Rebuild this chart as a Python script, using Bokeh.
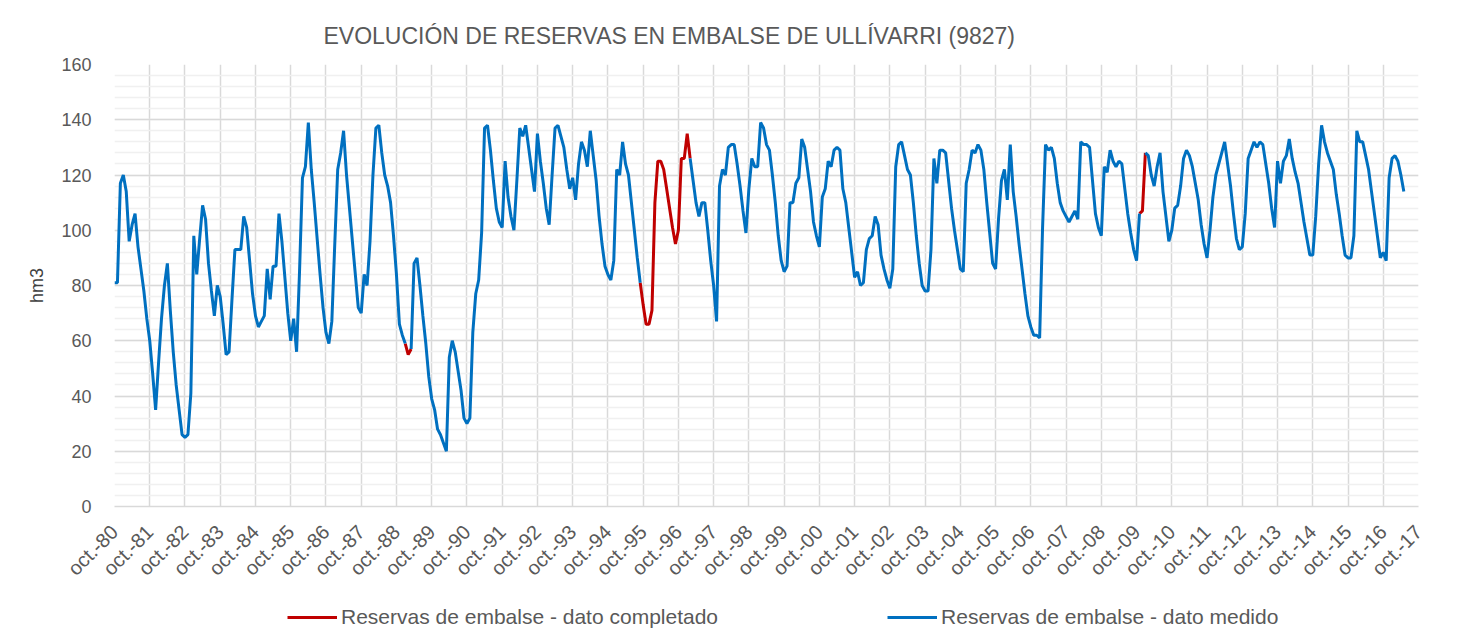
import math
import numpy as np
from bokeh.plotting import figure
from bokeh.layouts import column
from bokeh.models import FixedTicker, Legend, LegendItem, Range1d
from bokeh.embed import file_html
from bokeh.resources import INLINE

# ---------------- data (hm3, monthly, from oct-1980) ----------------
reservas_1980s = [
    81, 81, 117, 120, 114, 96, 102, 106, 94, 86, 78, 68,      # 80-81
    60, 48, 35, 52, 68, 80, 88, 71, 56, 44, 35, 26,           # 81-82
    25, 26, 41, 98, 84, 97, 109, 104, 88, 78, 69, 80,         # 82-83
    76, 66, 55, 56, 75, 93, 93, 93, 105, 101, 89, 77,         # 83-84
    69, 65, 67, 69, 86, 75, 87, 87, 106, 96, 83, 70,          # 84-85
    60, 68, 56, 85, 119, 123, 139, 122, 110, 97, 84, 72,      # 85-86
    63, 59, 67, 95, 122, 128, 136, 120, 108, 96, 84, 72,      # 86-87
    70, 84, 80, 96, 120, 137, 138, 128, 120, 116, 110, 98,    # 87-88
    84, 66, 62, 59, 55, 57, 88, 90, 80, 69, 59, 47,           # 88-89
    39, 35, 28, 26, 23, 20, 54, 60, 56, 49, 42, 32,           # 89-90
]
reservas_1990s = [
    30, 32, 63, 77, 82, 99, 137, 138, 129, 118, 108, 103,     # 90-91
    101, 125, 112, 105, 100, 118, 137, 134, 138, 130, 122, 114,
    135, 125, 117, 108, 102, 120, 137, 138, 134, 130, 122, 115,
    119, 111, 124, 132, 129, 123, 136, 127, 118, 105, 95, 87,
    84, 82, 89, 122, 120, 132, 124, 120, 110, 100, 90, 81,
    73, 66, 66, 71, 110, 125, 125, 122, 115, 108, 101, 95,
    100, 126, 126, 135, 126, 118, 110, 105, 110, 110, 100, 89,
    80, 67, 116, 122, 120, 130, 131, 131, 124, 116, 107, 99,
    115, 126, 123, 123, 139, 137, 131, 129, 120, 110, 98, 89,
    85, 87, 110, 110, 117, 119, 133, 130, 122, 114, 103, 98,
]
reservas_2000s = [
    94, 112, 115, 125, 123, 129, 130, 129, 115, 110, 101, 92,
    83, 85, 80, 81, 93, 97, 98, 105, 102, 91, 86, 82,
    79, 86, 123, 131, 132, 127, 122, 120, 110, 98, 88, 80,
    78, 78, 93, 126, 117, 129, 129, 128, 118, 108, 100, 93,
    86, 85, 117, 122, 129, 128, 131, 129, 122, 110, 99, 88,
    86, 104, 118, 122, 111, 131, 114, 105, 95, 86, 77, 69,
    65, 62, 62, 61, 101, 131, 129, 130, 126, 117, 110, 107,
    105, 103, 105, 107, 104, 132, 131, 131, 130, 118, 106, 101,
    98, 123, 121, 129, 125, 123, 125, 124, 115, 106, 99, 93,
    89, 106, 107, 128, 127, 120, 116, 123, 128, 114, 105, 96,
]
reservas_2010s = [
    100, 108, 109, 116, 126, 129, 127, 123, 117, 111, 102, 95,
    90, 100, 112, 120, 124, 128, 132, 124, 116, 106, 97, 93,
    94, 106, 126, 129, 132, 130, 132, 131, 124, 117, 108, 101,
    125, 117, 125, 127, 133, 126, 121, 117, 110, 103, 97, 91,
    91, 105, 124, 138, 132, 128, 125, 122, 113, 106, 98, 91,
    90, 90, 98, 136, 132, 132, 127, 122, 114, 106, 98, 90,
    92, 89, 119, 126, 127, 125, 120, 114,
]
# month ranges (first, last) of the completed (non-measured) data
tramos_completados = [(99, 101), (179, 196), (349, 351)]

etiquetas_x = ["oct.-80", "oct.-81", "oct.-82", "oct.-83", "oct.-84", "oct.-85",
               "oct.-86", "oct.-87", "oct.-88", "oct.-89", "oct.-90", "oct.-91",
               "oct.-92", "oct.-93", "oct.-94", "oct.-95", "oct.-96", "oct.-97",
               "oct.-98", "oct.-99", "oct.-00", "oct.-01", "oct.-02", "oct.-03",
               "oct.-04", "oct.-05", "oct.-06", "oct.-07", "oct.-08", "oct.-09",
               "oct.-10", "oct.-11", "oct.-12", "oct.-13", "oct.-14", "oct.-15",
               "oct.-16", "oct.-17"]

titulo = "EVOLUCIÓN DE RESERVAS EN EMBALSE DE ULLÍVARRI (9827)"
leyenda_completado = "Reservas de embalse - dato completado"
leyenda_medido = "Reservas de embalse - dato medido"

# ---------------- build series ----------------
serie = np.array(reservas_1980s + reservas_1990s + reservas_2000s + reservas_2010s, dtype=float)
meses = np.arange(len(serie), dtype=float)

medido = serie.copy()
for a, b in tramos_completados:
    medido[a + 1:b] = np.nan

xs_c, ys_c = [], []
for a, b in tramos_completados:
    xs_c.extend(list(meses[a:b + 1]) + [np.nan])
    ys_c.extend(list(serie[a:b + 1]) + [np.nan])

n_ticks = len(etiquetas_x)
x_ticks = [12 * i for i in range(n_ticks)]

FONT = "Liberation Sans"
GRID = "#d9d9d9"
TEXT = "#595959"
ROJO = "#C00000"
AZUL = "#0070C0"
W = 1444

p = figure(width=W, height=590, output_backend="svg", toolbar_location=None,
           x_range=Range1d(0, x_ticks[-1]), y_range=Range1d(0, 160),
           min_border_left=114, min_border_right=26, min_border_top=64,
           min_border_bottom=80)
p.outline_line_color = None

p.title.text = titulo
p.title.text_font = FONT
p.title.text_font_size = "23px"
p.title.text_font_style = "normal"
p.title.text_color = TEXT
p.title.align = "left"
p.title.offset = 209
p.title.standoff = 32

# axes
p.xaxis.ticker = FixedTicker(ticks=x_ticks)
p.xaxis.major_label_overrides = {t: lab for t, lab in zip(x_ticks, etiquetas_x)}
p.xaxis.major_label_orientation = math.pi / 4
p.xaxis.major_label_text_font = FONT
p.xaxis.major_label_text_font_size = "20px"
p.xaxis.major_label_text_color = TEXT
p.xaxis.axis_line_color = GRID
p.xaxis.axis_line_width = 1.5
p.xaxis.major_tick_line_color = None
p.xaxis.minor_tick_line_color = None
p.xaxis.major_label_standoff = 16

p.yaxis.ticker = FixedTicker(ticks=list(range(0, 161, 20)), minor_ticks=list(range(0, 161, 4)))
p.yaxis.major_label_text_font = FONT
p.yaxis.major_label_text_font_size = "18px"
p.yaxis.major_label_text_color = TEXT
p.yaxis.axis_line_color = None
p.yaxis.major_tick_line_color = None
p.yaxis.minor_tick_line_color = None
p.yaxis.major_label_standoff = 17
p.yaxis.axis_label = "hm3"
p.yaxis.axis_label_text_font = FONT
p.yaxis.axis_label_text_font_size = "18px"
p.yaxis.axis_label_text_font_style = "normal"
p.yaxis.axis_label_text_color = "#404040"
p.yaxis.axis_label_standoff = 11

p.xgrid.grid_line_color = GRID
p.xgrid.grid_line_width = 1.5
p.ygrid.grid_line_color = GRID
p.ygrid.grid_line_width = 1.5
p.ygrid.minor_grid_line_color = "#f0f0f0"
p.ygrid.minor_grid_line_width = 1.5

p.line(xs_c, ys_c, line_color=ROJO, line_width=3)
p.line(meses, medido, line_color=AZUL, line_width=3)

# ---------------- legend strip below the chart ----------------
# same series drawn again, but outside this strip's visible y range,
# so only the legend entries are seen
pl = figure(width=W, height=47, output_backend="svg", toolbar_location=None,
            x_range=Range1d(0, x_ticks[-1]), y_range=Range1d(1000, 1001),
            x_axis_location=None, y_axis_location=None,
            min_border_left=0, min_border_right=0, min_border_top=0, min_border_bottom=0)
pl.outline_line_color = None
pl.xgrid.visible = False
pl.ygrid.visible = False
l_c = pl.line(xs_c, ys_c, line_color=ROJO, line_width=3)
l_m = pl.line(meses, medido, line_color=AZUL, line_width=3)
legend = Legend(items=[LegendItem(label=leyenda_completado, renderers=[l_c]),
                       LegendItem(label=leyenda_medido, renderers=[l_m])],
                orientation="horizontal", location=(173, 8),
                glyph_width=50, label_standoff=4, spacing=169,
                border_line_color=None, background_fill_alpha=0,
                label_text_font=FONT, label_text_font_size="21px",
                label_text_color=TEXT, padding=0, margin=0)
pl.add_layout(legend)

open("out.html", "w").write(file_html(column(p, pl, spacing=0), INLINE))
